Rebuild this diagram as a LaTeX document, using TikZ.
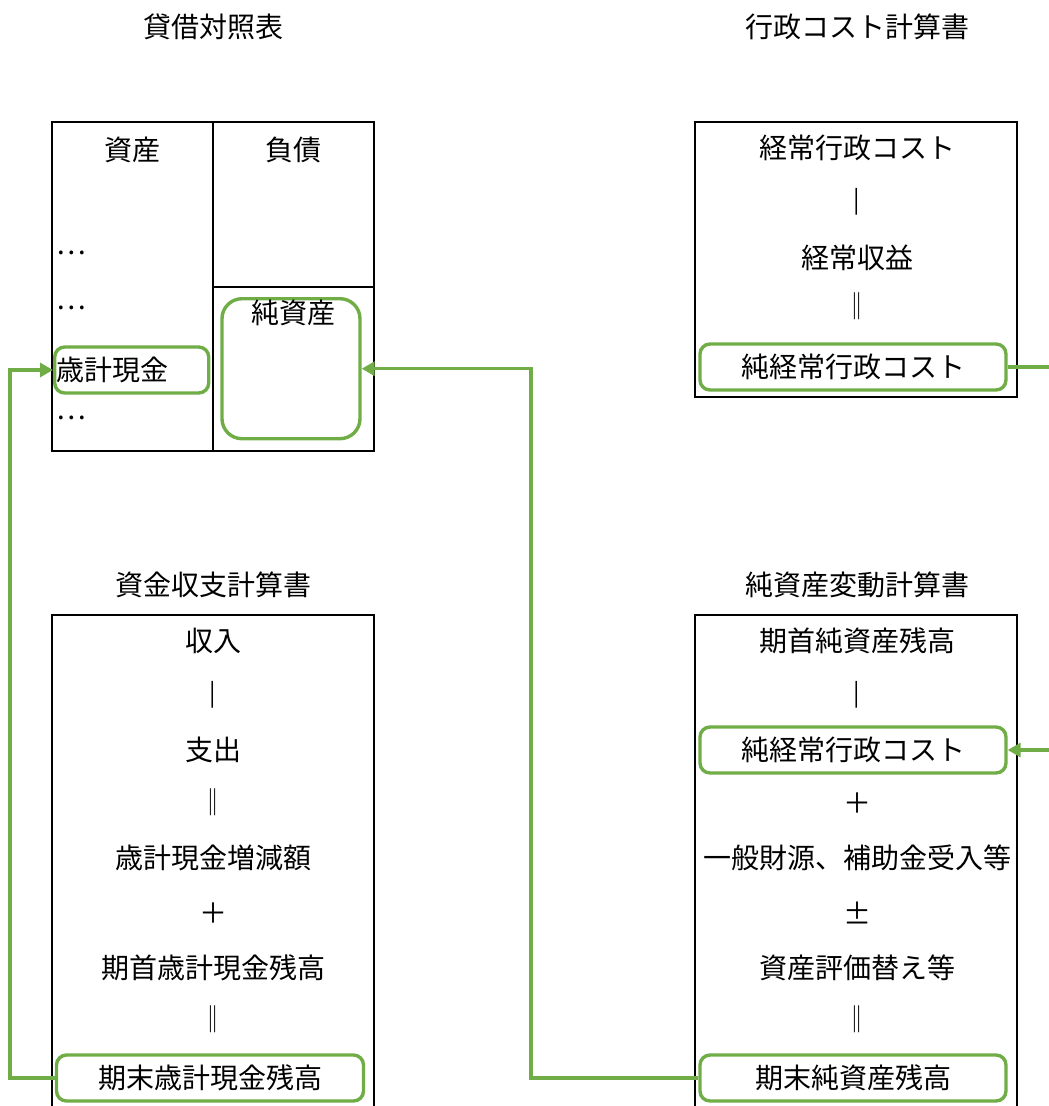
\documentclass[tikz,border=0pt]{standalone}
\usepackage{fontspec}
\setmainfont{Noto Sans CJK JP}
\usetikzlibrary{arrows.meta}
\definecolor{kgreen}{HTML}{70AD47}
\newcommand\jpfont{\fontsize{28pt}{34pt}\selectfont}
\newcommand\barfont{\fontsize{24pt}{28pt}\selectfont}
\newcommand\dbarfont{\fontsize{27pt}{30pt}\selectfont}
\tikzset{
  sheet/.style={line width=2.8pt},
  gbox/.style={draw=kgreen, line width=3.4pt, rounded corners=10pt, inner sep=0pt, minimum height=46pt},
  garrow/.style={draw=kgreen, line width=3.4pt, -{Triangle[length=13pt,width=14pt]}},
  opbar/.style={font=\barfont},
  opeq/.style={font=\dbarfont},
}
\begin{document}
\begin{tikzpicture}[x=1pt,y=-1pt,every node/.style={font=\jpfont}]
  \useasboundingbox (0,0) rectangle (1049,1106);
  % titles
  \node (titleBS) at (213,27) {貸借対照表};
  \node (titlePL) at (857,27) {行政コスト計算書};
  \node (titleCF) at (213,585) {資金収支計算書};
  \node (titleNW) at (857,585) {純資産変動計算書};

  % 貸借対照表
  \draw[sheet] (52,122) rectangle (374,451);
  \draw[sheet] (213,122) -- (213,451);
  \draw[sheet] (213,287) -- (374,287);
  \node (sisan) at (132,150) {資産};
  \node (fusai) at (293,150) {負債};
  \node[anchor=west, inner sep=0pt] (dotsA) at (56,253) {…};
  \node[anchor=west, inner sep=0pt] (dotsB) at (56,308) {…};
  \node[anchor=west, inner sep=0pt] (dotsC) at (56,418) {…};
  \node[gbox, anchor=west, text width=150pt, inner xsep=2pt, align=left] (genkin) at (53,370) {歳計現金};
  \node[gbox, rounded corners=20pt, minimum width=138pt, minimum height=140pt, anchor=north] (junsisan) at (291,297) {};
  \node (junsisanT) at (293,313) {純資産};

  % 行政コスト計算書
  \draw[sheet] (695,122) rectangle (1017,397);
  \node (keijoCost) at (857,148) {経常行政コスト};
  \node[opbar] (minusA) at (857,202) {|};
  \node (keijoRev) at (857,258) {経常収益};
  \node[opeq] (eqA) at (857,306) {‖};
  \node[gbox, minimum width=306pt] (netCostA) at (853,367) {純経常行政コスト};

  % 資金収支計算書
  \draw[sheet] (52,1110) -- (52,615) -- (374,615) -- (374,1110);
  \node (shunyu) at (213,641) {収入};
  \node[opbar] (minusB) at (213,695) {|};
  \node (shishutsu) at (213,750) {支出};
  \node[opeq] (eqB) at (213,802) {‖};
  \node (zogen) at (213,858) {歳計現金増減額};
  \node (plusB) at (213,913) {＋};
  \node (kishuCash) at (213,968) {期首歳計現金残高};
  \node[opeq] (eqC) at (213,1019) {‖};
  \node[gbox, minimum width=307pt] (kimatsuCash) at (210,1078) {期末歳計現金残高};

  % 純資産変動計算書
  \draw[sheet] (695,1110) -- (695,615) -- (1017,615) -- (1017,1110);
  \node (kishuNW) at (857,641) {期首純資産残高};
  \node[opbar] (minusC) at (857,695) {|};
  \node[gbox, minimum width=306pt] (netCostB) at (853,750) {純経常行政コスト};
  \node (plusC) at (857,803) {＋};
  \node (zaigen) at (857,858) {一般財源、補助金受入等};
  \node (pm) at (857,913) {±};
  \node (hyoka) at (857,968) {資産評価替え等};
  \node[opeq] (eqD) at (857,1019) {‖};
  \node[gbox, minimum width=306pt] (kimatsuNW) at (853,1078) {期末純資産残高};

  % links
  \coordinate (bendL) at (10,1078);
  \coordinate (bendM) at (531,1078);
  \coordinate (bendR) at (1070,367);
  \draw[garrow] (kimatsuCash.west) -- (bendL) |- (genkin.west);
  \draw[garrow] (kimatsuNW.west) -- (bendM) |- (junsisan.east);
  \draw[garrow] (netCostA.east) -- (bendR) |- (netCostB.east);
\end{tikzpicture}
\end{document}
